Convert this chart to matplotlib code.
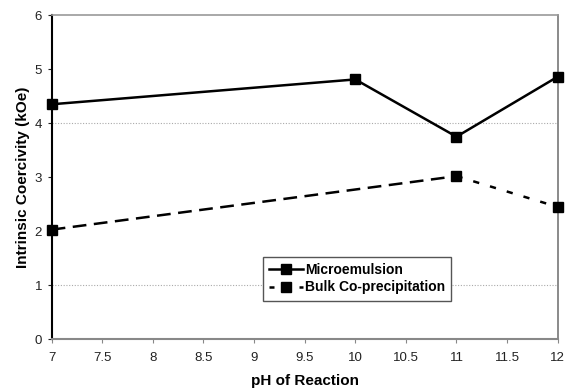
import matplotlib
matplotlib.use("Agg")
import matplotlib.pyplot as plt
from matplotlib.lines import Line2D

plt.rcParams['font.family'] = ['Liberation Sans', 'DejaVu Sans']

ph = [7, 10, 11, 12]
microemulsion = [4.35, 4.81, 3.75, 4.86]
bulk_ph = [7, 11, 12]
bulk = [2.03, 3.02, 2.45]

xticks = [7, 7.5, 8, 8.5, 9, 9.5, 10, 10.5, 11, 11.5, 12]
xtick_labels = ["7", "7.5", "8", "8.5", "9", "9.5", "10", "10.5", "11", "11.5", "12"]
yticks = [0, 1, 2, 3, 4, 5, 6]
grid_levels = [1, 4]

fig = plt.figure(figsize=(5.66, 3.88), dpi=100)
ax = fig.add_axes([0.0913, 0.1255, 0.894, 0.8355])

for g in grid_levels:
    ax.axhline(g, color='#aaaaaa', lw=0.8, ls=(0, (1, 1.5)), zorder=1)

ax.plot(ph, microemulsion, color='black', lw=1.8, marker='s', ms=7,
        zorder=3, clip_on=False)
ax.plot(bulk_ph[:2], bulk[:2], color='black', lw=1.8, ls=(0, (5.5, 3)), zorder=3)
ax.plot(bulk_ph[1:], bulk[1:], color='black', lw=1.8, ls=(0, (2.5, 4.5)), zorder=3)
ax.plot(bulk_ph, bulk, color='black', ls='none', marker='s', ms=7,
        zorder=4, clip_on=False)

ax.set_xlim(7, 12)
ax.set_ylim(0, 6)
ax.set_xticks(xticks)
ax.set_xticklabels(xtick_labels)
ax.set_yticks(yticks)
ax.tick_params(axis='both', labelsize=9.5, colors='#222222', length=3, width=0.8, direction='out')
ax.tick_params(axis='x', colors='#888888', labelcolor='#222222', pad=6)
ax.tick_params(axis='y', pad=4)

ax.spines['left'].set_color('black')
ax.spines['left'].set_linewidth(1.5)
ax.spines['bottom'].set_color('#888888')
ax.spines['bottom'].set_linewidth(1.5)
ax.spines['top'].set_color('#999999')
ax.spines['top'].set_linewidth(1.2)
ax.spines['right'].set_color('#777777')
ax.spines['right'].set_linewidth(1.2)

ax.set_xlabel('pH of Reaction', fontsize=11, fontweight='bold', labelpad=7)
ax.set_ylabel('Intrinsic Coercivity (kOe)', fontsize=11, fontweight='bold', labelpad=3)

handles = [
    Line2D([], [], color='black', lw=1.8, marker='s', ms=7),
    Line2D([], [], color='black', lw=1.8, ls=(0, (2, 4)), marker='s', ms=7),
]
labels = ['Microemulsion', 'Bulk Co-precipitation']
leg = ax.legend(handles, labels, loc='lower left', bbox_to_anchor=(0.418, 0.119), fontsize=10,
                frameon=True, fancybox=False, edgecolor='#555555',
                handlelength=2.4, borderpad=0.45, labelspacing=0.25,
                handletextpad=0.15, borderaxespad=0)
for t in leg.get_texts():
    t.set_fontweight('bold')
leg.get_frame().set_linewidth(1.0)
leg.get_frame().set_alpha(1)

fig.savefig('out.png', dpi=100)
